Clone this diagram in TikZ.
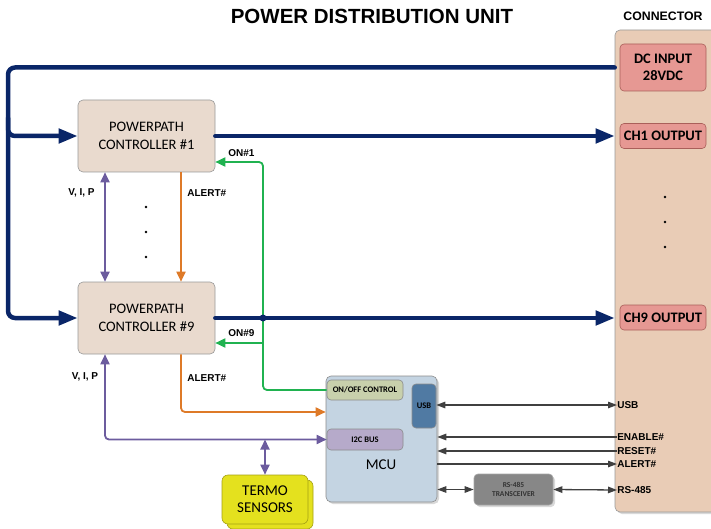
\documentclass[tikz,border=0pt]{standalone}
\usepackage{fontspec}
\setmainfont{Liberation Sans}
\newfontfamily\calib{Carlito}
\usetikzlibrary{arrows.meta,shadows}

\definecolor{navy}{RGB}{10,38,104}
\definecolor{sgreen}{RGB}{32,178,80}
\definecolor{sorange}{RGB}{222,122,40}
\definecolor{spurple}{RGB}{108,92,158}
\definecolor{ctrlfill}{RGB}{233,218,206}
\definecolor{connfill}{RGB}{233,204,182}
\definecolor{outfill}{RGB}{230,152,147}
\definecolor{outdraw}{RGB}{170,95,90}
\definecolor{mcufill}{RGB}{196,212,226}
\definecolor{onfill}{RGB}{200,208,172}
\definecolor{i2cfill}{RGB}{182,170,202}
\definecolor{usbfill}{RGB}{80,122,163}
\definecolor{rsfill}{RGB}{135,135,135}
\definecolor{termofill}{RGB}{228,225,30}
\definecolor{termodraw}{RGB}{165,160,20}
\definecolor{wirec}{RGB}{64,64,64}

\begin{document}
\begin{tikzpicture}[x=1pt, y=-1pt, semithick,
  bt/.tip={Triangle[length=19pt,width=14pt]},
  st/.tip={Triangle[length=10pt,width=9pt]},
  wt/.tip={Triangle[length=9pt,width=6.5pt]},
  ctrl/.style={draw=black!40, fill=ctrlfill, rounded corners=5pt, inner sep=0pt,
    minimum width=137pt, minimum height=72pt, align=center,
    font=\calib\fontsize{14.5}{18}\selectfont},
  outbox/.style={draw=outdraw, fill=outfill, rounded corners=4pt, inner sep=0pt,
    minimum width=86pt, align=center, font=\calib\bfseries\fontsize{14.5}{17}\selectfont},
  sub/.style={draw=black!45, rounded corners=4pt, inner sep=0pt, align=center,
    font=\calib\bfseries\fontsize{8.5}{10}\selectfont},
  lbl/.style={font=\bfseries\fontsize{10}{12}\selectfont, inner sep=0pt},
  bus/.style={navy, line width=4.5pt, line cap=round, rounded corners=7pt, -bt},
  sig/.style={line width=1.8pt, rounded corners=4pt, -st},
  wire/.style={wirec, line width=1.3pt, -wt}]

  \useasboundingbox (0,0) rectangle (711,529);

  \node[font=\bfseries\fontsize{20.5}{22}\selectfont] (T) at (372,16) {POWER DISTRIBUTION UNIT};
  \node[font=\bfseries\fontsize{12.3}{14}\selectfont] (TC) at (663,16) {CONNECTOR};

  \node[draw=black!40, fill=connfill, rounded corners=5pt, minimum width=102pt,
    minimum height=482pt, drop shadow={shadow xshift=2pt, shadow yshift=-2pt, opacity=.3}] (CONN) at (666,271) {};
  \node[outbox, minimum height=47pt] (DCIN) at (663,67.5) {DC INPUT\\28VDC};
  \node[outbox, minimum height=25pt] (CH1) at (663,136) {CH1 OUTPUT};
  \node[outbox, minimum height=25pt] (CH9) at (663,317.5) {CH9 OUTPUT};

  \node[ctrl] (C1) at (146.5,136) {POWERPATH\\CONTROLLER \#1};
  \node[ctrl] (C9) at (146.5,318) {POWERPATH\\CONTROLLER \#9};

  \node[draw=black!45, fill=mcufill, rounded corners=5pt, minimum width=111pt,
    minimum height=126pt, drop shadow={shadow xshift=2pt, shadow yshift=-2pt, opacity=.3}] (MCU) at (381.5,439) {};
  \node[font=\calib\fontsize{15}{18}\selectfont] (MCUt) at (381,465) {MCU};
  \node[sub, fill=onfill, minimum width=76pt, minimum height=20pt] (ONOFF) at (365,390) {ON/OFF CONTROL};
  \node[sub, fill=usbfill, minimum width=24pt, minimum height=44pt] (USB) at (424,406) {USB};
  \node[sub, fill=i2cfill, minimum width=76pt, minimum height=21pt] (I2C) at (365,439.5) {I2C BUS};

  \node[sub, fill=rsfill, draw=black!35, text=black!80, minimum width=79pt, minimum height=31pt,
    font=\calib\bfseries\fontsize{7.5}{9}\selectfont,
    drop shadow={shadow xshift=2pt, shadow yshift=-2pt, opacity=.3}] (RS) at (513.5,489.5) {RS-485\\TRANSCEIVER};
  \node[draw=termodraw, fill=termofill, rounded corners=6pt, minimum width=86pt, minimum height=49pt,
    copy shadow={shadow xshift=5pt, shadow yshift=-5pt, fill=termofill, draw=termodraw},
    font=\calib\fontsize{15}{17}\selectfont, align=center] (TS) at (265,499.5) {TERMO\\SENSORS};

  \node[lbl, anchor=west] (pUSB) at (617,405) {USB};
  \node[lbl, anchor=west] (pEN) at (617,437) {ENABLE\#};
  \node[lbl, anchor=west] (pRST) at (617,451) {RESET\#};
  \node[lbl, anchor=west] (pALT) at (617,464) {ALERT\#};
  \node[lbl, anchor=west] (pRS) at (617,490) {RS-485};

  \node[lbl] (L1) at (81.5,193) {V, I, P};
  \node[lbl] (L2) at (85,377) {V, I, P};
  \node[lbl, anchor=west] (L3) at (187,193) {ALERT\#};
  \node[lbl, anchor=west] (L4) at (187,378) {ALERT\#};
  \node[lbl, anchor=west] (L5) at (228,153) {ON\#1};
  \node[lbl, anchor=west] (L6) at (228,333) {ON\#9};

  \coordinate (B) at (8,0);
  \coordinate (V) at (105,0);
  \coordinate (A) at (181,0);
  \coordinate (G) at (263,0);

  \draw[sig, sgreen] (ONOFF.west) -| (G |- 0,162) -- (C1.east |- 0,162);
  \draw[sig, sgreen] (G |- 0,343) -- (C9.east |- 0,343);

  \draw[bus] (CONN.west |- DCIN) -| (B |- C9) -- (C9.west);
  \draw[bus] (B |- 0,118) |- (C1.west);
  \draw[bus] (C1.east) -- (CONN.west |- C1);
  \draw[bus] (C9.east) -- (CONN.west |- C9);
  \fill[navy] (G |- C9) circle (3.5pt);

  \draw[sig, sorange] (C1.south -| A) -- (C9.north -| A);
  \draw[sig, sorange] (C9.south -| A) |- (MCU.west |- 0,412);

  \draw[sig, spurple, st-st] (C1.south -| V) -- (C9.north -| V);
  \draw[sig, spurple, st-st] (C9.south -| V) |- (I2C.west);
  \draw[sig, spurple, st-st] (TS.north |- I2C.west) -- (TS.north);

  \draw[wire, wt-wt] (USB.east |- pUSB) -- (pUSB.west);
  \draw[wire] (pEN.west) -- (MCU.east |- pEN);
  \draw[wire] (pRST.west) -- (MCU.east |- pRST);
  \draw[wire] (MCU.east |- pALT) -- (pALT.west);
  \draw[wire, wt-wt] (MCU.east |- RS) -- (RS.west);
  \draw[wire, wt-wt] (RS.east) -- (pRS.west);

  \foreach \y in {207,232,257} \fill (146,\y) circle (1.3pt);
  \foreach \y in {197,222,247} \fill (665,\y) circle (1.3pt);
%  \draw[help lines, step=50] (0,0) grid (711,529);
\end{tikzpicture}
\end{document}
